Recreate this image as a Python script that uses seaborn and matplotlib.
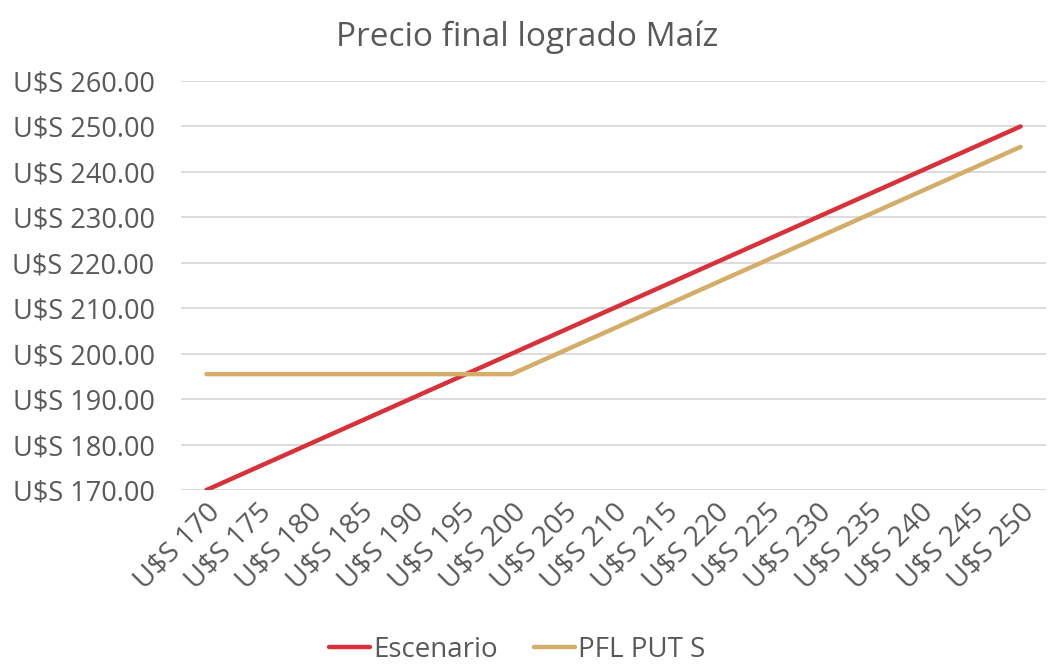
import matplotlib
matplotlib.use("Agg")
import matplotlib.pyplot as plt
import seaborn as sns
import pandas as pd
import numpy as np
from matplotlib.ticker import FuncFormatter

# Data
precios = [170, 175, 180, 185, 190, 195, 200, 205, 210, 215, 220, 225, 230, 235, 240, 245, 250]
escenario = [170, 175, 180, 185, 190, 195, 200, 205, 210, 215, 220, 225, 230, 235, 240, 245, 250]
pfl_put_s = [195.5, 195.5, 195.5, 195.5, 195.5, 195.5, 195.5, 200.5, 205.5, 210.5, 215.5,
             220.5, 225.5, 230.5, 235.5, 240.5, 245.5]
etiquetas = [f"U$S {p}" for p in precios]

sns.set_theme(style="white")
plt.rcParams["font.family"] = ["Open Sans", "DejaVu Sans"]

text_color = "#595959"
colors = {"Escenario": "#D9313A", "PFL PUT S": "#D4AE68"}

df = pd.DataFrame({
    "idx": list(range(len(precios))) * 2,
    "valor": escenario + pfl_put_s,
    "serie": ["Escenario"] * len(precios) + ["PFL PUT S"] * len(precios),
})

fig = plt.figure(figsize=(10.63, 6.70), dpi=100)
ax = fig.add_axes([181 / 1063, 1 - 490 / 670, (1046 - 181) / 1063, (490 - 81) / 670])

sns.lineplot(data=df, x="idx", y="valor", hue="serie", palette=colors,
             linewidth=3.2, ax=ax, legend=False, solid_capstyle="round")

ax.set_xlim(-0.5, len(precios) - 0.5)
ax.set_ylim(170, 260)
ax.set_yticks(np.arange(170, 261, 10))
ax.yaxis.set_major_formatter(FuncFormatter(lambda v, _: f"U$S {v:.2f}"))
ax.set_xticks(range(len(precios)))
ax.set_xticklabels(etiquetas, rotation=45, ha="right", rotation_mode="anchor")
ax.grid(axis="y", color="#D9D9D9", linewidth=1.3)
ax.set_axisbelow(True)
for s in ax.spines.values():
    s.set_visible(False)
ax.tick_params(axis="both", length=0, colors=text_color)
ax.tick_params(axis="y", pad=19, labelsize=19.5)
ax.tick_params(axis="x", pad=6, labelsize=20.5)
ax.set_xlabel("")
ax.set_ylabel("")

fig.text(527 / 1063, 1 - 37 / 670, "Precio final logrado Maíz", ha="center", va="center",
         fontsize=24, color=text_color)

handles = [plt.Line2D([], [], color=colors[k], linewidth=3.2) for k in colors]
fig.legend(handles, list(colors), loc="center", bbox_to_anchor=(517 / 1063, 1 - 650 / 670),
           ncol=2, frameon=False, fontsize=20, labelcolor=text_color,
           handlelength=1.5, handletextpad=0.1, columnspacing=1.3)

fig.savefig("out.png", dpi=100)
